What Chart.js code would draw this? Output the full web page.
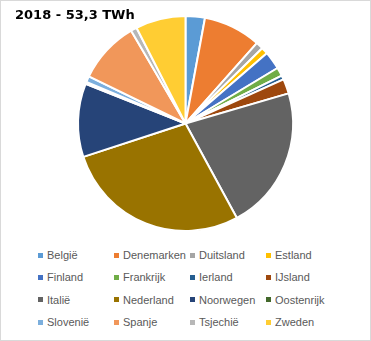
<!DOCTYPE html>
<html>
<head>
<meta charset="utf-8">
<script src="https://cdn.jsdelivr.net/npm/chart.js@4"></script>
<style>
  body { margin: 0; background: #fff; }
  #kader { position: relative; width: 369px; height: 339px; border: 1px solid #d9d9d9; background: #fff; overflow: hidden; }
  #titel { position: absolute; left: 14px; top: 6px; font: bold 13px "DejaVu Sans", sans-serif; color: #000; line-height: 16px; }
  #taart { position: absolute; left: -1px; top: -1px; width: 371px; height: 232px; }
  #legenda { position: absolute; left: 37px; top: 243px; display: grid; grid-template-columns: 76px 76px 76px 76px; grid-auto-rows: 22.3px; font: 11px "Liberation Sans", Arial, sans-serif; color: #595959; }
  .item { display: flex; align-items: center; white-space: nowrap; }
  .blokje { width: 5px; height: 5px; margin-right: 4px; flex: none; }
</style>
</head>
<body>
<div id="kader">
  <div id="taart"><canvas id="grafiek"></canvas></div>
  <div id="titel">2018 - 53,3 TWh</div>
  <div id="legenda"></div>
</div>
<script>
// aandeel per land (% van 53,3 TWh)
const landen = ['België', 'Denemarken', 'Duitsland', 'Estland', 'Finland', 'Frankrijk', 'Ierland', 'IJsland',
  'Italië', 'Nederland', 'Noorwegen', 'Oostenrijk', 'Slovenië', 'Spanje', 'Tsjechië', 'Zweden'];
const aandeel = [2.9, 8.6, 1.1, 1.0, 2.7, 1.3, 0.6, 2.2, 21.5, 27.8, 11.0, 0.3, 0.9, 9.3, 0.9, 7.5];
const kleuren = ['#5B9BD5', '#ED7D31', '#A5A5A5', '#FFC000', '#4472C4', '#70AD47', '#255E91', '#9E480E',
  '#636363', '#997300', '#264478', '#43682B', '#7CAFDD', '#F1975A', '#B7B7B7', '#FFCD33'];

// legenda in vier kolommen
const legenda = document.getElementById('legenda');
landen.forEach((land, i) => {
  const item = document.createElement('div');
  item.className = 'item';
  item.innerHTML = '<span class="blokje" style="background:' + kleuren[i] + '"></span>' + land;
  legenda.appendChild(item);
});

const ctx = document.getElementById('grafiek').getContext('2d');
new Chart(ctx, {
  type: 'pie',
  data: {
    labels: landen,
    datasets: [{
      data: aandeel,
      backgroundColor: kleuren,
      borderColor: '#ffffff',
      borderWidth: 2,
      hoverOffset: 0
    }]
  },
  options: {
    responsive: true,
    maintainAspectRatio: false,
    animation: false,
    layout: { padding: { top: 15, bottom: 0 } },
    plugins: {
      legend: { display: false },
      tooltip: { enabled: false }
    }
  }
});
</script>
</body>
</html>
